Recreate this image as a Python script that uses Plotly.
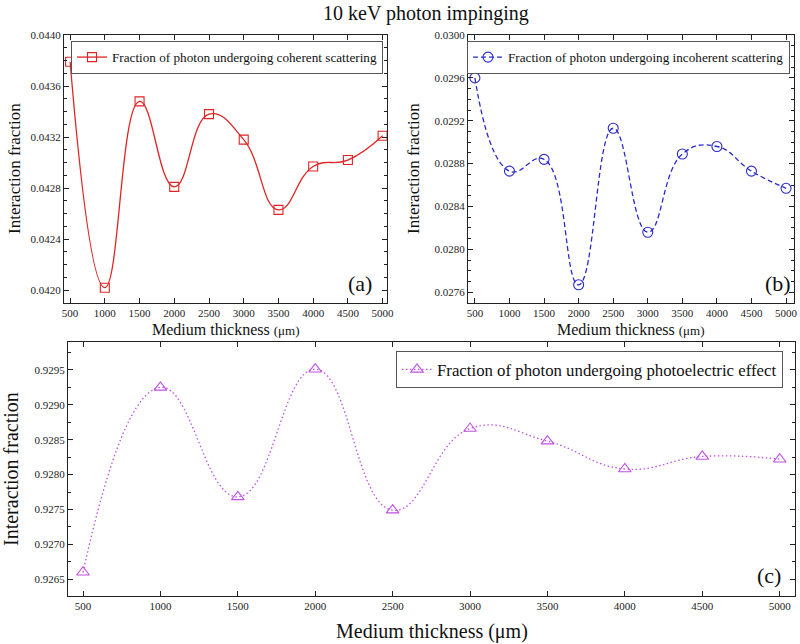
import plotly.graph_objects as go

# ---- data ----
thickness = [500, 1000, 1500, 2000, 2500, 3000, 3500, 4000, 4500, 5000]
coherent = [0.04379, 0.04202, 0.04348, 0.04281, 0.04338, 0.04318, 0.04263, 0.04297, 0.04302, 0.04321]
incoherent = [0.02960, 0.02873, 0.02884, 0.02767, 0.02913, 0.02816, 0.02889, 0.02896, 0.02873, 0.02857]
photoelectric = [0.92660, 0.92925, 0.92768, 0.92951, 0.92749, 0.92866, 0.92848, 0.92808, 0.92826, 0.92822]

SERIF = "Liberation Serif"
AX = "#222222"
W, H = 800, 644

def px_x(p):
    return p / W

def px_y(p):
    return 1 - p / H

fig = go.Figure()

fig.add_trace(go.Scatter(
    x=thickness, y=coherent, mode="lines+markers",
    name="Fraction of photon undergoing coherent scattering",
    line=dict(color="#e02424", width=1.3, shape="spline", smoothing=1.3),
    marker=dict(symbol="square-open", size=9, color="#e02424", line=dict(width=1.1)),
    xaxis="x", yaxis="y", legend="legend"))

fig.add_trace(go.Scatter(
    x=thickness, y=incoherent, mode="lines+markers",
    name="Fraction of photon undergoing incoherent scattering",
    line=dict(color="#2b2bcc", width=1.3, shape="spline", smoothing=1.3, dash="5px,3px"),
    marker=dict(symbol="circle-open", size=10, color="#2b2bcc", line=dict(width=1.1)),
    xaxis="x2", yaxis="y2", legend="legend2"))

fig.add_trace(go.Scatter(
    x=thickness, y=photoelectric, mode="lines+markers",
    name="Fraction of photon undergoing photoelectric effect",
    line=dict(color="#c050e6", width=1.3, shape="spline", smoothing=1.3, dash="1.5px,2.5px"),
    marker=dict(symbol="triangle-up-open", size=11, color="#c050e6", line=dict(width=1.1)),
    xaxis="x3", yaxis="y3", legend="legend3"))

def axis_style(font_size=11):
    return dict(showline=True, linecolor=AX, linewidth=1.3, mirror="allticks",
                ticks="inside", ticklen=5, tickwidth=1.2, tickcolor=AX,
                showgrid=False, zeroline=False, automargin=False,
                tickfont=dict(family=SERIF, size=font_size, color=AX))

def minor(dt):
    return dict(ticks="inside", ticklen=3, tickwidth=1.0, tickcolor=AX, dtick=dt, showgrid=False)

xticks = thickness

fig.update_layout(
    width=W, height=H, margin=dict(l=0, r=0, t=0, b=0, autoexpand=False),
    plot_bgcolor="white", paper_bgcolor="white",
    xaxis=dict(**axis_style(), domain=[px_x(64), px_x(387)], range=[412, 5063],
               tickvals=xticks, anchor="y"),
    yaxis=dict(**axis_style(), domain=[px_y(303), px_y(35)], range=[0.04190, 0.04400],
               tick0=0.0420, dtick=0.0004, tickformat=".4f", minor=minor(0.0001), anchor="x"),
    xaxis2=dict(**axis_style(), domain=[px_x(468), px_x(794)], range=[400, 5115],
                tickvals=xticks, anchor="y2"),
    yaxis2=dict(**axis_style(), domain=[px_y(303), px_y(35)], range=[0.02750, 0.03000],
                tick0=0.0276, dtick=0.0004, tickformat=".4f", minor=minor(0.0001), anchor="x2"),
    xaxis3=dict(**axis_style(), domain=[px_x(68), px_x(795)], range=[403, 5099],
                tickvals=xticks, anchor="y3"),
    yaxis3=dict(**axis_style(), domain=[px_y(596), px_y(342)], range=[0.92626, 0.92990],
                tick0=0.9265, dtick=0.0005, tickformat=".4f",
                minor=dict(ticks="inside", ticklen=3, tickwidth=1.0, tickcolor=AX,
                           nticks=3, showgrid=False), anchor="x3"),
    legend=dict(x=px_x(383), y=px_y(41), xanchor="right", yanchor="top",
                bgcolor="white", bordercolor="#555555", borderwidth=1,
                font=dict(family=SERIF, size=13.2, color="#111"),
                tracegroupgap=0, itemwidth=30),
    legend2=dict(x=px_x(790), y=px_y(41), xanchor="right", yanchor="top",
                 bgcolor="white", bordercolor="#555555", borderwidth=1,
                 font=dict(family=SERIF, size=13.2, color="#111"),
                 tracegroupgap=0, itemwidth=30),
    legend3=dict(x=px_x(783), y=px_y(351), xanchor="right", yanchor="top",
                 bgcolor="white", bordercolor="#555555", borderwidth=1,
                 font=dict(family=SERIF, size=16.8, color="#111"),
                 tracegroupgap=0, itemwidth=30),
    showlegend=True,
)

ann = []
def add_text(text, x, y, size, angle=0, xanchor="center", yanchor="middle"):
    ann.append(dict(text=text, x=px_x(x), y=px_y(y), xref="paper", yref="paper",
                    showarrow=False, textangle=angle, xanchor=xanchor, yanchor=yanchor,
                    font=dict(family=SERIF, size=size, color="#111")))

add_text("10 keV photon impinging", 426, 13, 20)
add_text("Medium thickness <span style='font-size:13px'>(μm)</span>", 226, 329, 16)
add_text("Medium thickness <span style='font-size:13px'>(μm)</span>", 631, 329, 16)
add_text("Medium thickness (μm)", 432, 631, 20)
add_text("Interaction fraction", 14, 169, 17, angle=-90)
add_text("Interaction fraction", 413, 169, 17, angle=-90)
add_text("Interaction fraction", 11, 469, 20, angle=-90)
add_text("(a)", 360, 283, 22)
add_text("(b)", 778, 283, 22)
add_text("(c)", 769, 575, 22)
fig.update_layout(annotations=ann)

fig.write_html("out.html", config={"displayModeBar": False},
               post_script="document.body.style.margin='0';document.body.style.overflow='hidden';")
